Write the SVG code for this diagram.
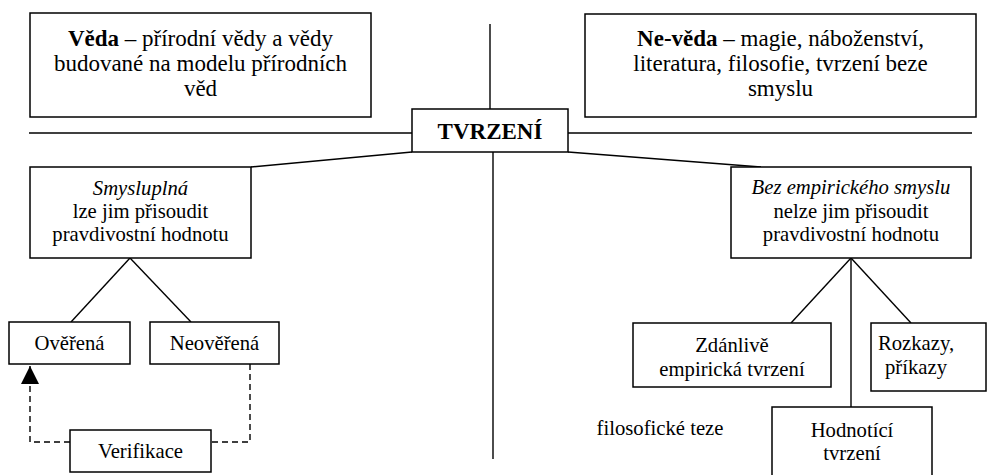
<svg xmlns="http://www.w3.org/2000/svg" width="987" height="475" viewBox="0 0 987 475">
<style>
  .box { fill: #fff; stroke: #000; stroke-width: 1.5; }
  .ln { fill: none; stroke: #000; stroke-width: 1.4; }
  .dash { fill: none; stroke: #000; stroke-width: 1.4; stroke-dasharray: 6 4; }
</style>
<defs>
  <marker id="arr" viewBox="0 0 18 18" refX="18" refY="9" markerWidth="18" markerHeight="18" markerUnits="userSpaceOnUse" orient="auto">
    <path d="M0,0 L18,9 L0,18 Z" fill="#000"/>
  </marker>
</defs>
<rect width="987" height="475" fill="#fff"/>
<g id="connectors">
  <line class="ln" x1="490" y1="24" x2="490" y2="109"/>
  <line class="ln" x1="493" y1="152" x2="493" y2="459"/>
  <line class="ln" x1="29" y1="133" x2="412" y2="133"/>
  <line class="ln" x1="568" y1="133" x2="972" y2="133"/>
  <line class="ln" x1="412" y1="152" x2="251" y2="167"/>
  <line class="ln" x1="568" y1="152" x2="761" y2="167"/>
  <line class="ln" x1="130" y1="258" x2="71" y2="322"/>
  <line class="ln" x1="130" y1="258" x2="191" y2="322"/>
  <line class="ln" x1="851" y1="258" x2="791" y2="323"/>
  <line class="ln" x1="851" y1="258" x2="851" y2="407"/>
  <line class="ln" x1="851" y1="258" x2="911" y2="323"/>
  <polyline class="dash" points="250,364 250,442 211,442"/>
  <polyline class="dash" points="70,442 30,442 30,366" marker-end="url(#arr)"/>
</g>
<g id="veda" font-family="Liberation Serif, serif" font-size="23" text-anchor="middle">
  <rect class="box" x="30" y="13" width="341" height="104"/>
  <text x="200.5" y="46"><tspan font-weight="bold">Věda</tspan> – přírodní vědy a vědy</text>
  <text x="200.5" y="71">budované na modelu přírodních</text>
  <text x="200.5" y="96">věd</text>
</g>
<g id="neveda" font-family="Liberation Serif, serif" font-size="23" text-anchor="middle">
  <rect class="box" x="585" y="14" width="391" height="103"/>
  <text x="780.5" y="46"><tspan font-weight="bold">Ne-věda</tspan> – magie, náboženství,</text>
  <text x="780.5" y="71">literatura, filosofie, tvrzení beze</text>
  <text x="780.5" y="96">smyslu</text>
</g>
<g id="tvrzeni" font-family="Liberation Serif, serif" font-size="23" text-anchor="middle">
  <rect class="box" x="412" y="109" width="156" height="43"/>
  <text x="490" y="139" font-weight="bold">TVRZENÍ</text>
</g>
<g id="smysluplna" font-family="Liberation Serif, serif" font-size="20.7" text-anchor="middle">
  <rect class="box" x="30" y="167" width="221" height="91"/>
  <text x="140.5" y="195" font-style="italic">Smysluplná</text>
  <text x="140.5" y="218">lze jim přisoudit</text>
  <text x="140.5" y="241">pravdivostní hodnotu</text>
</g>
<g id="bez" font-family="Liberation Serif, serif" font-size="20.7" text-anchor="middle">
  <rect class="box" x="731" y="167" width="240" height="91"/>
  <text x="851" y="194" font-style="italic">Bez empirického smyslu</text>
  <text x="851" y="218">nelze jim přisoudit</text>
  <text x="851" y="241">pravdivostní hodnotu</text>
</g>
<g id="overena" font-family="Liberation Serif, serif" font-size="20.7" text-anchor="middle">
  <rect class="box" x="9" y="322" width="121" height="42"/>
  <text x="69.5" y="350">Ověřená</text>
</g>
<g id="neoverena" font-family="Liberation Serif, serif" font-size="20.7" text-anchor="middle">
  <rect class="box" x="150" y="322" width="129" height="42"/>
  <text x="214.5" y="350">Neověřená</text>
</g>
<g id="verifikace" font-family="Liberation Serif, serif" font-size="20.7" text-anchor="middle">
  <rect class="box" x="70" y="430" width="141" height="42"/>
  <text x="140.5" y="458">Verifikace</text>
</g>
<g id="zdanlive" font-family="Liberation Serif, serif" font-size="20.7" text-anchor="middle">
  <rect class="box" x="633" y="323" width="198" height="64"/>
  <text x="732" y="352">Zdánlivě</text>
  <text x="732" y="376">empirická tvrzení</text>
</g>
<g id="rozkazy" font-family="Liberation Serif, serif" font-size="20.7" text-anchor="middle">
  <rect class="box" x="871" y="323" width="115" height="68"/>
  <text x="916" y="350">Rozkazy,</text>
  <text x="916" y="374">příkazy</text>
</g>
<g id="hodnotici" font-family="Liberation Serif, serif" font-size="20.7" text-anchor="middle">
  <rect class="box" x="772" y="407" width="160" height="80"/>
  <text x="852" y="437">Hodnotící</text>
  <text x="852" y="460">tvrzení</text>
</g>
<g id="filosoficke" font-family="Liberation Serif, serif" font-size="20.7" text-anchor="middle">
  <text x="660" y="435">filosofické teze</text>
</g>
</svg>
